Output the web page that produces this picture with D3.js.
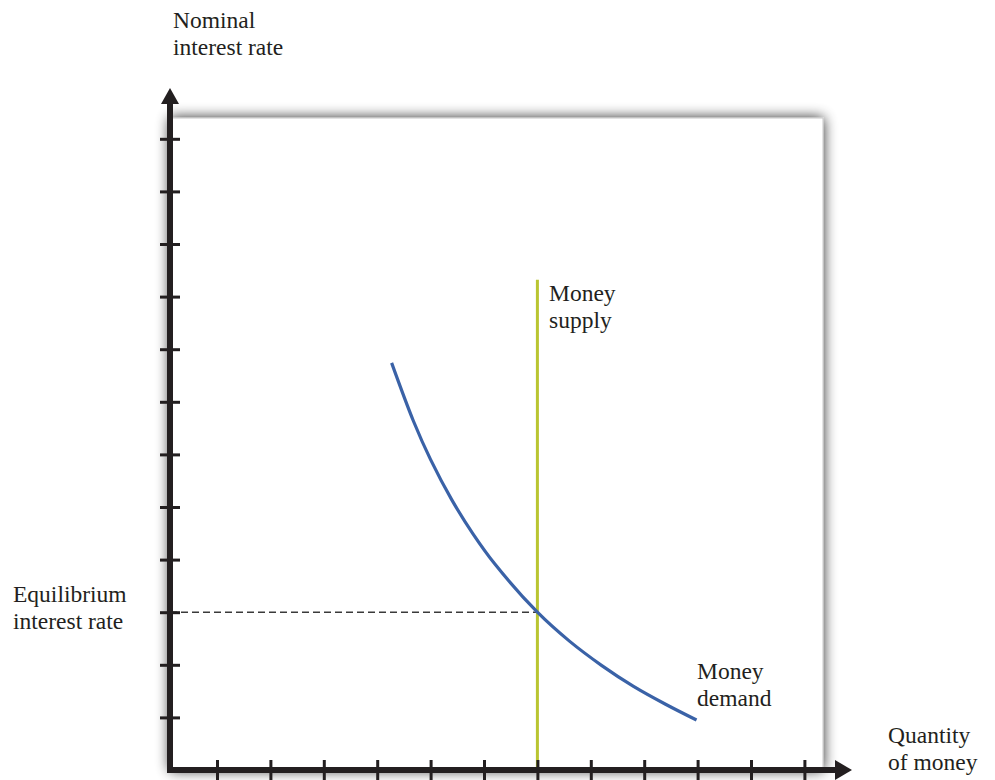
<!DOCTYPE html>
<html>
<head>
<meta charset="utf-8">
<script src="https://cdn.jsdelivr.net/npm/d3@7"></script>
<style>
  body { margin: 0; background: #fff; }
  svg text { font-family: "Liberation Serif", "Times New Roman", serif; font-size: 23.5px; fill: #231f20; }
</style>
</head>
<body>
<div id="chart"></div>
<script>
// tick positions on both axes (no labels in the original)
let tickValues = [1, 2, 3, 4, 5, 6, 7, 8, 9, 10, 11, 12];

// money demand curve (quantity, nominal rate)
let demandQuantity = [4.27, 4.68, 5.00, 5.40, 5.80, 6.20, 7.00, 7.60, 8.20, 8.80, 9.40, 9.98];
let demandRate     = [7.74, 6.63, 5.90, 5.13, 4.48, 3.92, 3.00, 2.45, 1.99, 1.59, 1.25, 0.95];

// money supply is vertical
let supplyQuantity = 7;
let supplyRate = [0, 9.32];

// equilibrium point
let eqQuantity = 7;
let eqRate = 3;

let width = 995, height = 780;
let originX = 170, originY = 770;

let svg = d3.select("#chart").append("svg")
    .attr("width", width)
    .attr("height", height);

let x = d3.scaleLinear().domain([0, 12]).range([163.6, 804.4]);
let y = d3.scaleLinear().domain([0, 12]).range([originY, 138.8]);

// drop shadow for the panel
let defs = svg.append("defs");
let filter = defs.append("filter")
    .attr("id", "shadow")
    .attr("x", "-10%").attr("y", "-10%")
    .attr("width", "120%").attr("height", "120%");
filter.append("feGaussianBlur")
    .attr("in", "SourceAlpha")
    .attr("stdDeviation", 7)
    .attr("result", "blur");
filter.append("feComponentTransfer")
    .attr("in", "blur")
    .attr("result", "soft")
    .append("feFuncA").attr("type", "linear").attr("slope", 0.85);
let merge = filter.append("feMerge");
merge.append("feMergeNode").attr("in", "soft");
merge.append("feMergeNode").attr("in", "SourceGraphic");

// white panel
svg.append("rect")
    .attr("x", originX)
    .attr("y", 118)
    .attr("width", 823 - originX)
    .attr("height", originY - 118)
    .attr("fill", "#fff")
    .attr("stroke", "#c8c8c8")
    .attr("stroke-width", 1)
    .attr("filter", "url(#shadow)");

// dashed equilibrium line
svg.append("line")
    .attr("x1", originX)
    .attr("x2", x(eqQuantity))
    .attr("y1", y(eqRate))
    .attr("y2", y(eqRate))
    .attr("stroke", "#3a3a3a")
    .attr("stroke-width", 1.6)
    .attr("stroke-dasharray", "7,4");

// money supply
svg.append("line")
    .attr("x1", x(supplyQuantity))
    .attr("x2", x(supplyQuantity))
    .attr("y1", y(supplyRate[0]))
    .attr("y2", y(supplyRate[1]))
    .attr("stroke", "#b9c531")
    .attr("stroke-width", 3);

// money demand
let demand = demandQuantity.map((q, i) => ({q: q, r: demandRate[i]}));
let line = d3.line()
    .x(d => x(d.q))
    .y(d => y(d.r))
    .curve(d3.curveCatmullRom.alpha(0.5));

svg.append("path")
    .datum(demand)
    .attr("d", line)
    .attr("fill", "none")
    .attr("stroke", "#3a62a7")
    .attr("stroke-width", 3.2);

// ticks via d3 axes, crossing the axis lines
let yAxis = d3.axisLeft(y).tickValues(tickValues).tickSize(20).tickFormat("");
let yAxisGroup = svg.append("g")
    .attr("transform", "translate(" + (originX + 10) + ",0)")
    .call(yAxis);

let xAxis = d3.axisBottom(x).tickValues(tickValues).tickSize(20).tickFormat("");
let xAxisGroup = svg.append("g")
    .attr("transform", "translate(0," + (originY - 10) + ")")
    .call(xAxis);

[yAxisGroup, xAxisGroup].forEach(g => {
    g.select(".domain").remove();
    g.selectAll(".tick line").attr("stroke", "#231f20").attr("stroke-width", 3);
});

// axis lines
svg.append("path")
    .attr("d", "M" + originX + ",102 V" + originY + " H836")
    .attr("fill", "none")
    .attr("stroke", "#231f20")
    .attr("stroke-width", 6)
    .attr("stroke-linejoin", "miter");

// arrow heads
svg.append("path")
    .attr("d", "M" + originX + ",88 L" + (originX + 9) + ",104 L" + (originX - 9) + ",104 Z")
    .attr("fill", "#231f20");
svg.append("path")
    .attr("d", "M852," + originY + " L835," + (originY - 10) + " L835," + (originY + 10) + " Z")
    .attr("fill", "#231f20");

// labels
function label(px, py, lines) {
    let t = svg.append("text").attr("x", px).attr("y", py);
    lines.forEach((s, i) => {
        t.append("tspan").attr("x", px).attr("dy", i === 0 ? 0 : 26.5).text(s);
    });
}
label(173, 28, ["Nominal", "interest rate"]);
label(13, 602, ["Equilibrium", "interest rate"]);
label(549, 301, ["Money", "supply"]);
label(697, 679, ["Money", "demand"]);
label(888, 743, ["Quantity", "of money"]);
</script>
</body>
</html>
